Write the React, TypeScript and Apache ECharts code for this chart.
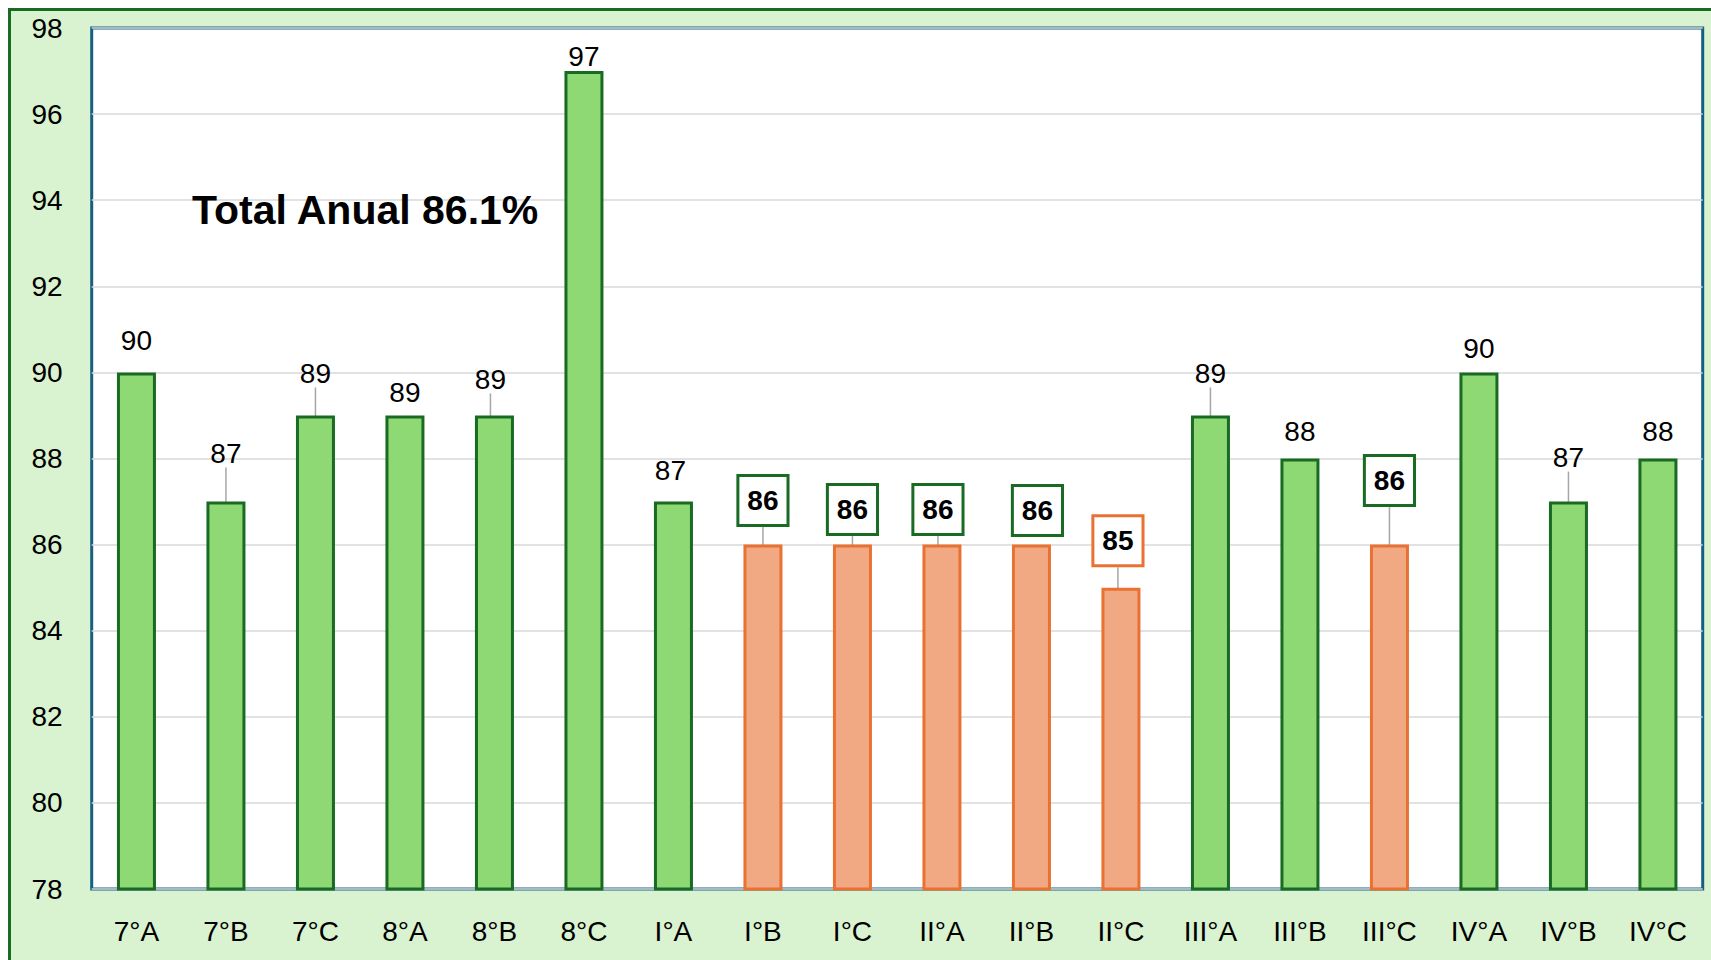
import React, { useEffect, useRef } from "react";
import * as echarts from "echarts";

const categories = ["7°A", "7°B", "7°C", "8°A", "8°B", "8°C", "I°A", "I°B", "I°C", "II°A", "II°B", "II°C", "III°A", "III°B", "III°C", "IV°A", "IV°B", "IV°C"];
const values = [90, 87, 89, 89, 89, 97, 87, 86, 86, 86, 86, 85, 89, 88, 86, 90, 87, 88];
const yMin = 78;
const yMax = 98;
const yInterval = 2;
const totalText = "Total Anual 86.1%";
const lowThreshold = 87; // below this: orange bar + boxed label
const criticalThreshold = 86; // below this: orange label box

// label placement (px above bar top, horizontal shift, leader line on/off)
const labelGap = [32, 48, 42, 23, 36, 15, 31, 44, 35, 35, 34, 47, 42, 27, 64, 24, 44, 27];
const labelShift = [0, 0, 0, 0, -4, 0, -3, 0, 0, -4, 6, -3, 0, 0, 0, 0, 0, 0];
const leaderLine = [0, 1, 1, 0, 1, 0, 0, 1, 1, 1, 0, 1, 1, 0, 1, 0, 1, 0];

const GREEN_DARK = "#196B24";
const GREEN_FILL = "#8ED973";
const ORANGE = "#E97132";
const ORANGE_FILL = "#F1A983";
const BLUE = "#156082";
const FONT = "'Liberation Sans', Arial, sans-serif";

export default function App() {
  const ref = useRef<HTMLDivElement>(null);

  useEffect(() => {
    if (!ref.current) return;
    const chart = echarts.init(ref.current, undefined, { renderer: "svg" });

    const data = values.map((v, i) => {
      const low = v < lowThreshold;
      const critical = v < criticalThreshold;
      const item: any = {
        value: v,
        labelLine: { show: !!leaderLine[i] },
      };
      if (low) {
        item.itemStyle = { color: ORANGE_FILL, borderColor: ORANGE };
        item.label = {
          fontWeight: "bold",
          fontSize: 28,
          backgroundColor: "#ffffff",
          borderColor: critical ? ORANGE : GREEN_DARK,
          borderWidth: 3,
          padding: [10, 8, 9, 8],
          lineHeight: 28,
        };
      }
      return item;
    });

    chart.setOption({
      animation: false,
      backgroundColor: "transparent",
      textStyle: { fontFamily: FONT },
      grid: {
        left: 91.7,
        right: 8.3,
        top: 28,
        bottom: 71,
        show: true,
        backgroundColor: "#ffffff",
        borderColor: BLUE,
        borderWidth: 3,
        containLabel: false,
      },
      xAxis: {
        type: "category",
        data: categories,
        axisLine: { show: false },
        axisTick: { show: false },
        axisLabel: { fontSize: 28, color: "#000", margin: 28, fontFamily: FONT },
      },
      yAxis: {
        type: "value",
        min: yMin,
        max: yMax,
        interval: yInterval,
        axisLine: { show: false },
        axisTick: { show: false },
        axisLabel: { fontSize: 28, color: "#000", margin: 29, fontFamily: FONT },
        splitLine: { lineStyle: { color: "#D9D9D9", width: 1.5 } },
      },
      series: [
        {
          type: "bar",
          data,
          barWidth: 39,
          itemStyle: { color: GREEN_FILL, borderColor: GREEN_DARK, borderWidth: 3 },
          label: {
            show: true,
            position: "top",
            fontSize: 28,
            color: "#000",
            fontFamily: FONT,
            padding: [7, 4],
          },
          labelLine: { show: false, lineStyle: { color: "#A6A6A6", width: 1.5 } },
          labelLayout: (p: any) => ({
            x: p.rect.x + p.rect.width / 2 + labelShift[p.dataIndex],
            y: p.rect.y - labelGap[p.dataIndex],
            align: "center",
            verticalAlign: "middle",
          }),
        },
      ],
      graphic: [
        {
          type: "text",
          x: 192,
          y: 210,
          z: 100,
          style: {
            text: totalText,
            font: "bold 41px 'Liberation Sans', Arial, sans-serif",
            fill: "#000",
            textAlign: "left",
            textVerticalAlign: "middle",
          },
        },
      ],
    });

    return () => chart.dispose();
  }, []);

  return (
    <div
      style={{
        position: "fixed",
        left: 0,
        top: 0,
        width: 1711,
        height: 960,
        overflow: "hidden",
        background: "#ffffff",
      }}
    >
      <div
        style={{
          position: "absolute",
          left: 8,
          top: 8,
          width: 1720,
          height: 980,
          borderTop: `3px solid ${GREEN_DARK}`,
          borderLeft: `3px solid ${GREEN_DARK}`,
          background: "#D9F2D0",
        }}
      />
      <div ref={ref} style={{ position: "absolute", left: 0, top: 0, width: 1711, height: 960 }} />
    </div>
  );
}
